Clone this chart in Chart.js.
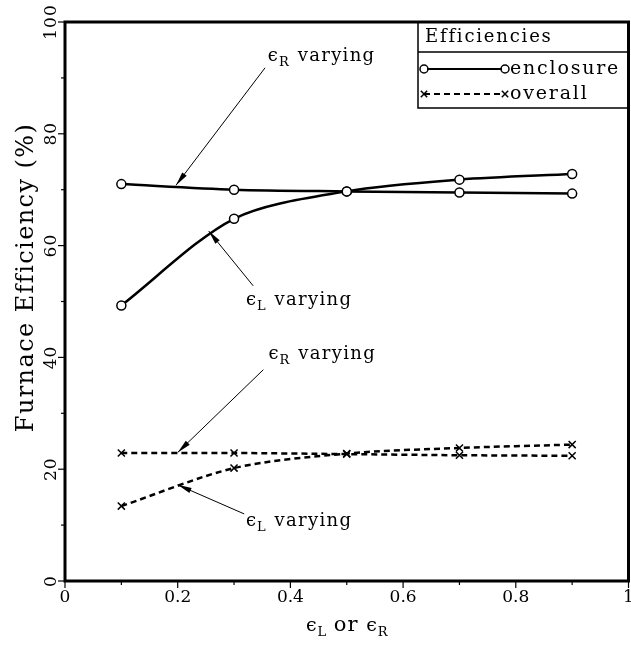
<!DOCTYPE html>
<html>
<head>
<meta charset="utf-8">
<script src="https://cdn.jsdelivr.net/npm/chart.js@4.4.1/dist/chart.umd.min.js"></script>
<style>
  html, body { margin: 0; padding: 0; background: #fff; overflow: hidden; }
  canvas { display: block; }
</style>
</head>
<body>
<canvas id="furnace-chart" width="635" height="648"></canvas>
<script>
// emissivity of the varied surface
const emissivity = [0.1, 0.3, 0.5, 0.7, 0.9];

// enclosure efficiency (%)
const enclosureR = [71.0, 70.0, 69.7, 69.5, 69.3];
const enclosureL = [49.3, 64.8, 69.7, 71.8, 72.8];

// overall efficiency (%)
const overallR = [22.9, 22.9, 22.7, 22.5, 22.4];
const overallL = [13.4, 20.2, 22.8, 23.8, 24.4];

const xTicks = [0, 0.2, 0.4, 0.6, 0.8, 1];
const yTicks = [0, 20, 40, 60, 80, 100];

// callouts: label anchor, arrow tail, arrow tip (data units)
const callouts = [
    {sub: "R", label: [0.36, 93.8], tail: [0.355, 91.8], tip: [0.197, 70.8]},
    {sub: "L", label: [0.321, 50.2], tail: [0.334, 52.8], tip: [0.255, 62.6]},
    {sub: "R", label: [0.361, 40.6], tail: [0.352, 37.8], tip: [0.2, 23.0]},
    {sub: "L", label: [0.321, 10.7], tail: [0.318, 12.0], tip: [0.2, 17.2]}
];

const SERIF = "'DejaVu Serif', 'Liberation Serif', serif";

function pts(ys) {
    return emissivity.map((x, i) => ({x: x, y: ys[i]}));
}

function enclosureSet(ys) {
    return {
        data: pts(ys),
        borderColor: '#000',
        borderWidth: 2.5,
        pointStyle: 'circle',
        pointRadius: 4.5,
        pointBackgroundColor: '#fff',
        pointBorderColor: '#000',
        pointBorderWidth: 1.5,
        tension: 0.3
    };
}

function overallSet(ys) {
    return {
        data: pts(ys),
        borderColor: '#000',
        borderWidth: 2.5,
        borderDash: [6, 4],
        pointStyle: 'crossRot',
        pointRadius: 5,
        pointBorderColor: '#000',
        pointBorderWidth: 1.5,
        tension: 0.3
    };
}

function drawEps(ctx, x, y, sub, size) {
    ctx.letterSpacing = '0px';
    ctx.font = size + "px " + SERIF;
    ctx.textBaseline = 'middle';
    ctx.textAlign = 'left';
    ctx.fillText("\u03F5", x, y);
    const w = ctx.measureText("\u03F5").width;
    ctx.font = Math.round(size * 0.7) + "px " + SERIF;
    ctx.fillText(sub, x + w + 1, y + size * 0.35);
    return w + 1 + ctx.measureText(sub).width;
}

function arrow(ctx, x0, y0, x1, y1) {
    ctx.lineWidth = 1;
    ctx.beginPath();
    ctx.moveTo(x0, y0);
    ctx.lineTo(x1, y1);
    ctx.stroke();
    const a = Math.atan2(y1 - y0, x1 - x0);
    const len = 14, half = 2.8;
    ctx.beginPath();
    ctx.moveTo(x1, y1);
    ctx.lineTo(x1 - len * Math.cos(a) + half * Math.sin(a), y1 - len * Math.sin(a) - half * Math.cos(a));
    ctx.lineTo(x1 - len * Math.cos(a) - half * Math.sin(a), y1 - len * Math.sin(a) + half * Math.cos(a));
    ctx.closePath();
    ctx.fill();
}

const decor = {
    id: 'decor',
    afterDraw(chart) {
        const ctx = chart.ctx;
        const xs = chart.scales.x, ys = chart.scales.y;
        const a = chart.chartArea;
        ctx.save();
        ctx.fillStyle = '#000';
        ctx.strokeStyle = '#000';

        // frame
        ctx.lineWidth = 3;
        ctx.strokeRect(a.left, a.top, a.right - a.left, a.bottom - a.top);

        // tick marks
        ctx.lineWidth = 1.2;
        for (let v = 0; v <= 100; v += 10) {
            const y = ys.getPixelForValue(v);
            const l = v % 20 === 0 ? 7 : 4;
            ctx.beginPath(); ctx.moveTo(a.left - l, y); ctx.lineTo(a.left, y); ctx.stroke();
        }
        for (let i = 0; i <= 10; i++) {
            const x = xs.getPixelForValue(i / 10);
            const l = i % 2 === 0 ? 7 : 4;
            ctx.beginPath(); ctx.moveTo(x, a.bottom); ctx.lineTo(x, a.bottom + l); ctx.stroke();
        }

        // x tick labels
        ctx.font = "17px " + SERIF;
        ctx.textAlign = 'center';
        ctx.textBaseline = 'middle';
        ctx.letterSpacing = '0px';
        xTicks.forEach(v => {
            ctx.fillText(String(v), xs.getPixelForValue(v), a.bottom + 17);
        });

        // rotated y tick labels
        ctx.letterSpacing = '1px';
        yTicks.forEach(v => {
            ctx.save();
            ctx.translate(a.left - 13, ys.getPixelForValue(v));
            ctx.rotate(-Math.PI / 2);
            ctx.fillText(String(v), 0, 0);
            ctx.restore();
        });

        // y title
        ctx.save();
        ctx.font = "24px " + SERIF;
        ctx.letterSpacing = '1.4px';
        ctx.translate(27, (a.top + a.bottom) / 2 - 24);
        ctx.rotate(-Math.PI / 2);
        ctx.fillText("Furnace Efficiency (%)", 0, 0);
        ctx.restore();

        // x title
        {
            const y = 626;
            ctx.letterSpacing = '1px';
            ctx.font = "21px " + SERIF;
            const orW = ctx.measureText(" or ").width;
            ctx.letterSpacing = '0px';
            ctx.font = "19px " + SERIF;
            const epsW = ctx.measureText("\u03F5").width;
            ctx.font = "13px " + SERIF;
            const total = 2 * (epsW + 1) + ctx.measureText("L").width + ctx.measureText("R").width + orW;
            let x = (a.left + a.right) / 2 - total / 2;
            x += drawEps(ctx, x, y, "L", 19);
            ctx.letterSpacing = '1px';
            ctx.font = "21px " + SERIF;
            ctx.textBaseline = 'middle';
            ctx.fillText(" or ", x, y);
            x += orW;
            drawEps(ctx, x, y, "R", 19);
        }

        // callouts
        callouts.forEach(c => {
            const lx = xs.getPixelForValue(c.label[0]), ly = ys.getPixelForValue(c.label[1]);
            const w = drawEps(ctx, lx, ly, c.sub, 18);
            ctx.letterSpacing = '1.3px';
            ctx.font = "18px " + SERIF;
            ctx.textBaseline = 'middle';
            ctx.fillText(" varying", lx + w + 2, ly);
            arrow(ctx, xs.getPixelForValue(c.tail[0]), ys.getPixelForValue(c.tail[1]),
                  xs.getPixelForValue(c.tip[0]), ys.getPixelForValue(c.tip[1]));
        });

        // legend box
        const bl = 418, bb = 108, sep = 52;
        ctx.lineWidth = 1.5;
        ctx.beginPath();
        ctx.moveTo(bl, a.top); ctx.lineTo(bl, bb); ctx.lineTo(a.right, bb);
        ctx.moveTo(bl, sep); ctx.lineTo(a.right, sep);
        ctx.stroke();
        ctx.font = "18px " + SERIF;
        ctx.letterSpacing = '1.8px';
        ctx.textAlign = 'left';
        ctx.textBaseline = 'middle';
        ctx.fillText("Efficiencies", bl + 7, 37);

        const rows = [
            {ds: chart.data.datasets[0], y: 69, text: "enclosure"},
            {ds: chart.data.datasets[2], y: 94, text: "overall"}
        ];
        rows.forEach(r => {
            const x0 = bl + 6, x1 = bl + 87;
            ctx.save();
            ctx.lineWidth = 2;
            ctx.setLineDash(r.ds.borderDash || []);
            ctx.beginPath(); ctx.moveTo(x0, r.y); ctx.lineTo(x1, r.y); ctx.stroke();
            ctx.restore();
            [x0, x1].forEach(px => {
                if (r.ds.pointStyle === 'circle') {
                    ctx.save();
                    ctx.fillStyle = '#fff';
                    ctx.beginPath(); ctx.arc(px, r.y, 3.2, 0, Math.PI * 2); ctx.fill();
                    ctx.lineWidth = 1.5;
                    ctx.beginPath(); ctx.arc(px, r.y, 4, 0, Math.PI * 2); ctx.stroke();
                    ctx.restore();
                } else {
                    Chart.helpers.drawPoint(ctx, {
                        pointStyle: r.ds.pointStyle, radius: 4.5, borderWidth: 1.3
                    }, px, r.y);
                }
            });
            ctx.font = "19px " + SERIF;
            ctx.letterSpacing = '1.8px';
            ctx.fillStyle = '#000';
            ctx.fillText(r.text, x1 + 5, r.y);
        });

        ctx.restore();
    }
};

const chart = new Chart(document.getElementById('furnace-chart'), {
    type: 'line',
    data: {
        datasets: [
            enclosureSet(enclosureR),
            enclosureSet(enclosureL),
            overallSet(overallR),
            overallSet(overallL)
        ]
    },
    options: {
        responsive: false,
        animation: false,
        layout: {padding: {top: 22, right: 0, left: 0, bottom: 0}},
        plugins: {legend: {display: false}, tooltip: {enabled: false}},
        scales: {
            x: {
                type: 'linear', min: 0, max: 1,
                afterFit: s => { s.height = 67; s.paddingLeft = 0; s.paddingRight = 0; },
                grid: {display: false, drawTicks: false},
                border: {display: false},
                ticks: {display: false}
            },
            y: {
                min: 0, max: 100,
                afterFit: s => { s.width = 65; s.paddingTop = 0; s.paddingBottom = 0; },
                grid: {display: false},
                border: {display: false},
                ticks: {display: false}
            }
        }
    },
    plugins: [decor]
});
</script>
</body>
</html>
